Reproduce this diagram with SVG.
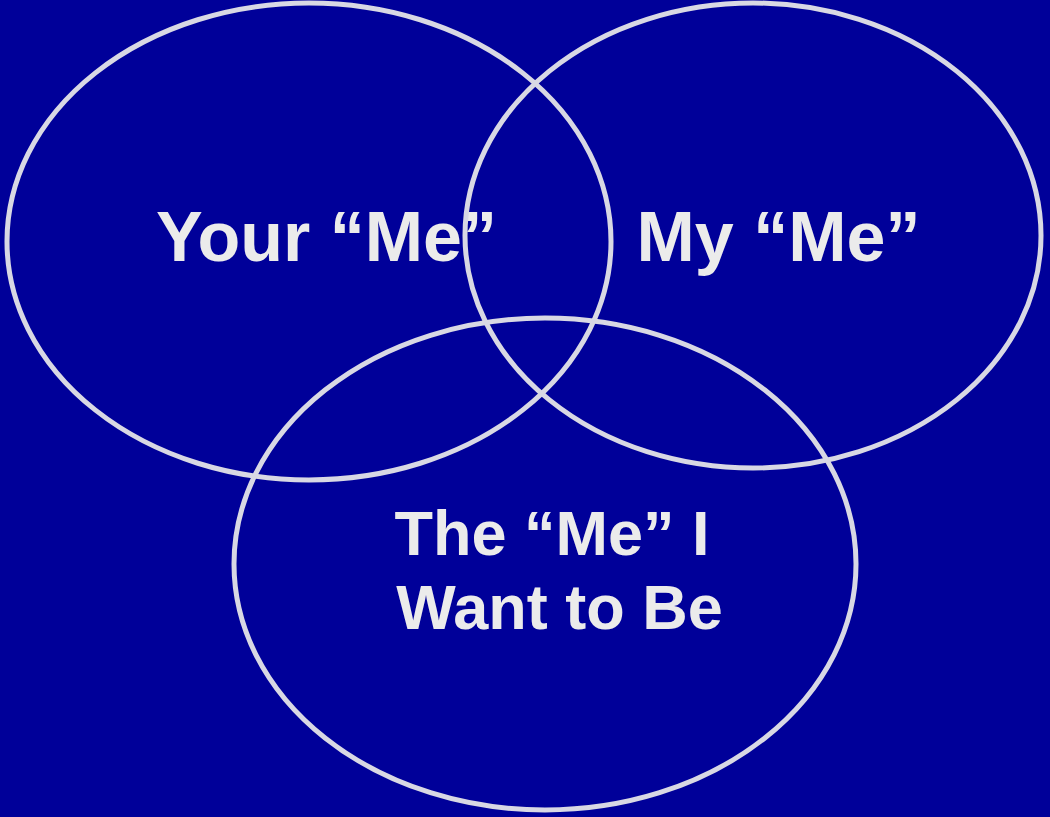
<svg xmlns="http://www.w3.org/2000/svg" width="1050" height="817" viewBox="0 0 1050 817">
<style>
.ring{fill:none;stroke:#D8D8E4;stroke-width:5}
.lbl{font-family:"Liberation Sans",Arial,sans-serif;font-weight:bold;fill:#EBEBEB;text-anchor:middle}
</style>
<rect width="1050" height="817" fill="#000099"/>
<g id="your-me">
<ellipse class="ring" cx="309" cy="241.5" rx="302" ry="238.5"/>
<text class="lbl" x="326.5" y="261" font-size="70">Your “Me”</text>
</g>
<g id="my-me">
<ellipse class="ring" cx="753" cy="235.5" rx="288" ry="232.5"/>
<text class="lbl" x="778.5" y="261" font-size="70">My “Me”</text>
</g>
<g id="want-me">
<ellipse class="ring" cx="545" cy="564" rx="311" ry="246"/>
<text class="lbl" x="552" y="555" font-size="63">The “Me” I</text>
<text class="lbl" x="559.5" y="629" font-size="63">Want to Be</text>
</g>
<g id="connectors"/>
</svg>
